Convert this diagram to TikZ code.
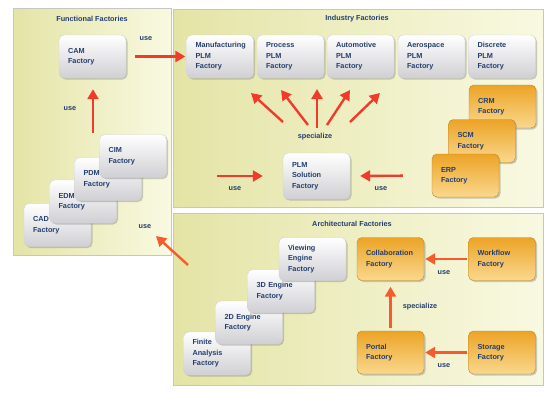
\documentclass[tikz,border=0pt]{standalone}
\usepackage{fontspec}
\setmainfont{Liberation Sans}
\usetikzlibrary{shadows,arrows.meta}
\definecolor{navy}{RGB}{36,62,110}
\definecolor{redarr}{RGB}{242,58,42}
\definecolor{orgarr}{RGB}{244,92,46}
\definecolor{paneld}{RGB}{228,228,166}
\definecolor{panell}{RGB}{249,249,226}
\definecolor{boxg}{RGB}{208,208,212}
\definecolor{orgd}{RGB}{236,164,38}
\definecolor{orgl}{RGB}{250,216,142}
\begin{document}
\begin{tikzpicture}[x=1pt,y=-1pt,
  panel/.style={draw=gray!45,line width=1pt,left color=paneld,right color=panell},
  box/.style={rectangle,rounded corners=5pt,draw=gray!35,line width=0.4pt,
    top color=white,bottom color=boxg,
    drop shadow={opacity=0.4,shadow xshift=1.5pt,shadow yshift=-1.5pt},
    text width=49pt,inner xsep=9pt,inner ysep=2pt,minimum height=43pt,align=left,
    font=\fontsize{7.3}{10.5}\selectfont\bfseries,text=navy},
  obox/.style={box,draw=orgd!80!black,top color=orgd,bottom color=orgl},
  fat/.style={draw=redarr,line width=2.4pt,-{Triangle[width=11pt,length=10pt]}},
  ofat/.style={fat,draw=orgarr},
  lbl/.style={font=\fontsize{7.3}{9}\selectfont\bfseries,text=navy,inner sep=0pt}]
\useasboundingbox (0,0) rectangle (550,392);
% panels
\path[panel] (13,8) rectangle (171,255);
\path[panel] (173,9) rectangle (543,207);
\path[panel] (173,213) rectangle (543,385);
\node[lbl] (tfun) at (92,19) {Functional Factories};
\node[lbl] (tind) at (357,19) {Industry Factories};
\node[lbl] (tarch) at (352,224) {Architectural Factories};
% functional factories
\node[box] (cam) at (92.5,56.5) {CAM\\Factory};
\node[box] (cad) at (57.5,225) {CAD\\Factory};
\node[box] (edm) at (83,201.5) {EDM\\Factory};
\node[box] (pdm) at (108,179) {PDM\\Factory};
\node[box] (cim) at (133,156) {CIM\\Factory};
% industry factories
\node[box] (mfg) at (220,56.5) {Manufacturing\\PLM\\Factory};
\node[box] (proc) at (290.5,56.5) {Process\\PLM\\Factory};
\node[box] (auto) at (360.5,56.5) {Automotive\\PLM\\Factory};
\node[box] (aero) at (431.5,56.5) {Aerospace\\PLM\\Factory};
\node[box] (disc) at (502,56.5) {Discrete\\PLM\\Factory};
\node[box,minimum height=46pt] (psf) at (316.5,176) {PLM\\Solution\\Factory};
\node[obox] (crm) at (502.5,106.5) {CRM\\Factory};
\node[obox] (scm) at (482,141) {SCM\\Factory};
\node[obox] (erp) at (465.5,175.5) {ERP\\Factory};
% architectural factories
\node[box] (fin) at (217,353.5) {Finite\\Analysis\\Factory};
\node[box] (eng2) at (249,322.5) {2D Engine\\Factory};
\node[box] (eng3) at (281,291) {3D Engine\\Factory};
\node[box] (view) at (312.5,259) {Viewing\\Engine\\Factory};
\node[obox] (collab) at (390.5,259) {Collaboration\\Factory};
\node[obox] (wflow) at (502,259) {Workflow\\Factory};
\node[obox] (portal) at (390.5,352.5) {Portal\\Factory};
\node[obox] (store) at (502,352.5) {Storage\\Factory};
% free arrow ends
\coordinate (funtail) at (93,133);
\coordinate (archtail) at (188,265);
\coordinate (funtip) at (156,236);
\coordinate (usetail) at (217,176);
\coordinate (sp1) at (283,122);  \coordinate (sp1h) at (251,93);
\coordinate (sp2) at (308,125);  \coordinate (sp2h) at (281,90);
\coordinate (sp3) at (317,128);  \coordinate (sp3h) at (317,89);
\coordinate (sp4) at (327,125);  \coordinate (sp4h) at (350,90);
\coordinate (sp5) at (350,122);  \coordinate (sp5h) at (380,93);
% connectors
\draw[fat,shorten <=9pt,shorten >=1pt] (cam) -- (mfg);
\draw[fat,shorten >=11pt] (funtail) -- (cam.south -| funtail);
\draw[ofat] (archtail) -- (funtip);
\foreach \t in {1,...,5}
  \draw[fat] (sp\t) -- (sp\t h);
\draw[fat,shorten >=20pt] (usetail) -- (psf.west);
\draw[fat,shorten <=29pt,shorten >=10pt] (erp.west) -- (psf.east);
\draw[ofat,shorten <=1pt,shorten >=1pt] (wflow) -- (collab);
\draw[ofat,shorten <=1pt,shorten >=1pt] (store) -- (portal);
\draw[ofat,shorten <=3pt,shorten >=6pt] (portal) -- (collab);
% labels
\node[lbl] (u1) at (146,39) {use};
\node[lbl] (u2) at (70,109) {use};
\node[lbl] (u3) at (145,227) {use};
\node[lbl] (u4) at (235,189) {use};
\node[lbl] (u5) at (381,189) {use};
\node[lbl] (u6) at (444,273) {use};
\node[lbl] (u7) at (444,366) {use};
\node[lbl] (s1) at (315,137) {specialize};
\node[lbl] (s2) at (420,307) {specialize};
\end{tikzpicture}
\end{document}
